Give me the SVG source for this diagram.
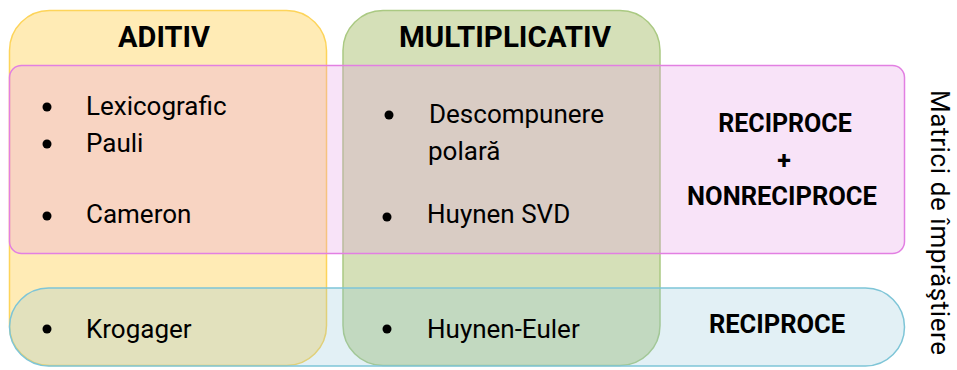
<svg xmlns="http://www.w3.org/2000/svg" width="957" height="370" viewBox="0 0 957 370">
  <style>
    .item { font-family: Roboto, "Open Sans", "Liberation Sans", sans-serif; font-size: 26px; fill: #000; }
    .head { font-family: Roboto, "Open Sans", "Liberation Sans", sans-serif; font-weight: bold; fill: #000; text-anchor: middle; }
    .bullet { fill: #000; }
  </style>
  <rect width="957" height="370" fill="#fff"/>

  <!-- additive decompositions -->
  <g id="aditiv">
    <rect x="9.5" y="10.5" width="317" height="355" rx="40" fill="#FFEBB5" stroke="#FDD45A" stroke-width="1.5"/>
    <text class="head" x="164" y="47" font-size="29">ADITIV</text>
  </g>

  <!-- multiplicative decompositions -->
  <g id="multiplicativ">
    <rect x="343" y="10.5" width="317" height="355" rx="40" fill="#D5E0B8" stroke="#AAC982" stroke-width="1.5"/>
    <text class="head" x="505" y="47" font-size="29.5">MULTIPLICATIV</text>
  </g>

  <!-- reciprocal + nonreciprocal matrices -->
  <g id="nereciproce">
    <rect x="9.5" y="65.5" width="895" height="188" rx="12" fill="#E698E6" fill-opacity="0.27" stroke="#E27FE2" stroke-width="1.5"/>
    <text class="head" x="785" y="132" font-size="25">RECIPROCE</text>
    <text class="head" x="784" y="169" font-size="25">+</text>
    <text class="head" x="782" y="205" font-size="25.5">NONRECIPROCE</text>
  </g>

  <!-- reciprocal matrices -->
  <g id="reciproce">
    <rect x="9.5" y="288" width="895" height="78" rx="39" fill="#8CC4D8" fill-opacity="0.25" stroke="#7EC5D7" stroke-width="1.5"/>
    <text class="head" x="777" y="333" font-size="25.5">RECIPROCE</text>
  </g>

  <!-- list entries -->
  <g id="lexicografic">
    <circle class="bullet" cx="47" cy="107" r="4.5"/>
    <text class="item" x="86" y="115">Lexicografic</text>
  </g>
  <g id="pauli">
    <circle class="bullet" cx="47" cy="144" r="4.5"/>
    <text class="item" x="86" y="152">Pauli</text>
  </g>
  <g id="cameron">
    <circle class="bullet" cx="47" cy="216" r="4.5"/>
    <text class="item" x="86" y="223">Cameron</text>
  </g>
  <g id="krogager">
    <circle class="bullet" cx="47" cy="329" r="4.5"/>
    <text class="item" x="86" y="338">Krogager</text>
  </g>
  <g id="descompunere-polara">
    <circle class="bullet" cx="389" cy="115" r="4.5"/>
    <text class="item" x="429" y="123">Descompunere</text>
    <text class="item" x="428" y="160">polară</text>
  </g>
  <g id="huynen-svd">
    <circle class="bullet" cx="387" cy="217" r="4.5"/>
    <text class="item" x="427" y="223">Huynen SVD</text>
  </g>
  <g id="huynen-euler">
    <circle class="bullet" cx="387" cy="329" r="4.5"/>
    <text class="item" x="427" y="338">Huynen-Euler</text>
  </g>

  <!-- axis caption, read top to bottom -->
  <g id="matrici">
    <text class="item" transform="translate(931 90) rotate(90)" x="0" y="0" font-size="25" letter-spacing="0.6">Matrici de împrăştiere</text>
  </g>

  <g id="connectors"/>
</svg>
